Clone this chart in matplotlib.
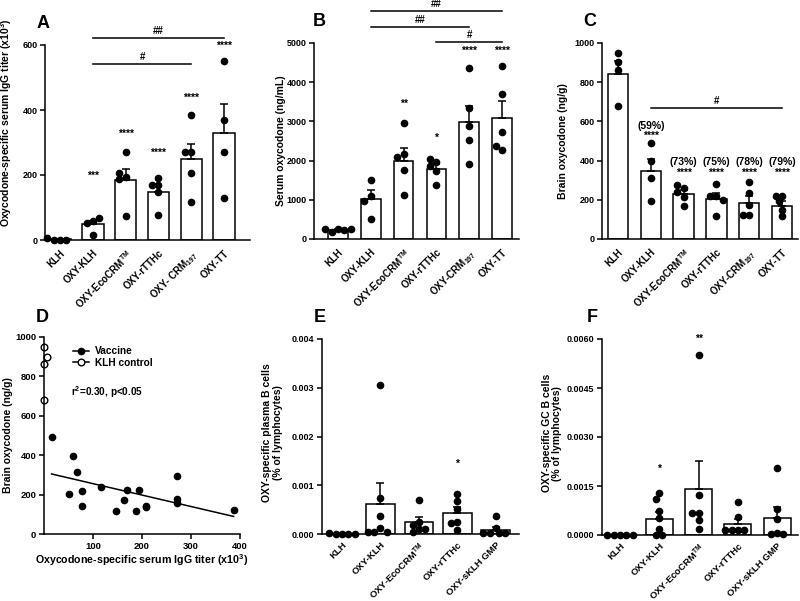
import numpy as np
import matplotlib
matplotlib.use("Agg")
import matplotlib.pyplot as plt
from matplotlib.lines import Line2D

plt.rcParams.update({
    "font.family": ["Liberation Sans", "DejaVu Sans"],
    "font.weight": "bold",
    "font.size": 7,
    "axes.labelweight": "bold",
    "mathtext.fontset": "custom",
    "mathtext.rm": "Liberation Sans:bold",
    "mathtext.it": "Liberation Sans:italic:bold",
    "mathtext.bf": "Liberation Sans:bold",
    "mathtext.default": "rm",
    "axes.linewidth": 1.1,
})

# ---- data ----
top_labels_a = ["KLH", "OXY-KLH", r"OXY-EcoCRM$^{TM}$", "OXY-rTTHc", r"OXY- CRM$_{197}$", "OXY-TT"]
top_labels = ["KLH", "OXY-KLH", r"OXY-EcoCRM$^{TM}$", "OXY-rTTHc", r"OXY-CRM$_{197}$", "OXY-TT"]
bottom_labels = ["KLH", "OXY-KLH", r"OXY-EcoCRM$^{TM}$", "OXY-rTTHc", "OXY-sKLH GMP"]

# A: IgG titer (x10^3)
titer_mean = [2, 48, 184, 148, 249, 329]
titer_sem = [1.5, 12, 34, 21, 45, 90]
titer_pts = [[0, 0, 0, 6], [60, 52, 68, 15], [272, 195, 187, 207, 75],
             [190, 170, 170, 147, 77], [386, 271, 271, 207, 116], [551, 370, 272, 130]]
titer_stars = ["", "***", "****", "****", "****", "****"]
titer_star_y = [0, 198, 326, 268, 437, 598]
titer_brackets = [(1, 5, 621, "##"), (1, 4, 541, "#")]

# B: serum oxycodone (ng/mL)
serum_mean = [230, 1020, 1990, 1786, 2993, 3087]
serum_sem = [15, 221, 323, 119, 408, 425]
serum_pts = [[250, 190, 220, 250, 260], [1505, 1100, 978, 510], [2950, 2177, 2092, 1752, 1114],
             [1973, 2041, 1871, 1743, 1378], [4354, 3342, 2874, 2534, 1922], [4422, 3690, 2721, 2279, 2381]]
serum_stars = ["", "", "**", "*", "****", "****"]
serum_star_y = [0, 0, 3444, 2577, 4804, 4804]
serum_brackets = [(1, 5, 5816, "##"), (1, 4, 5408, "##"), (3, 5, 5025, "#")]

# C: brain oxycodone (ng/g)
brain_mean = [843, 345, 228, 206, 184, 167]
brain_sem = [63, 65, 24, 28, 34, 29]
brain_pts = [[949, 901, 864, 677], [490, 396, 311, 196], [260, 238, 277, 213, 167],
             [282, 221, 218, 200, 119], [289, 235, 175, 124, 124], [218, 221, 192, 150, 116]]
brain_stars = ["", "****", "****", "****", "****", "****"]
brain_pct = ["", "(59%)", "(73%)", "(75%)", "(78%)", "(79%)"]
brain_star_y = [0, 524, 337, 337, 337, 337]
brain_pct_y = [0, 578, 391, 391, 391, 391]
brain_brackets = [(1, 5, 668, "#")]

# D: correlation
klh_titer = [0, 6, 0, 0]
klh_brain = [949, 899, 862, 680]
vac_titer = [15.5, 59, 68, 77, 77, 52, 117, 147, 164, 169, 188, 193, 209, 209, 272, 272, 272, 387]
vac_brain = [491, 398, 317, 219, 143, 202, 241, 115, 174, 221, 115, 221, 143, 135, 292, 179, 157, 123]
fit_slope = -0.5805
fit_intercept = 313.7

# E: plasma B cells
plasma_mean = [0.00001, 0.000622, 0.000246, 0.00043, 0.00009]
plasma_sem = [0.000005, 0.000424, 0.000104, 0.00012, 0.00005]
plasma_pts = [[0, 0, 0, 0.00003, 0.00001],
              [0.00305, 0.00074, 0.00036, 0.00013, 0.00004, 0.00004, 0.00004],
              [0.0007, 0.00025, 0.00018, 0.0001, 0.00005, 0.0001],
              [0.00082, 0.00068, 0.00052, 0.00024, 0.00023, 0.00008],
              [0.00036, 0.00013, 0.00003, 0.00002, 0.00002, 0.00002]]
plasma_stars = ["", "", "", "*", ""]
plasma_star_y = [0, 0, 0, 0.00144, 0]

# F: GC B cells
gc_mean = [0, 0.00049, 0.00142, 0.00033, 0.00051]
gc_sem = [0, 0.00022, 0.00085, 0.00015, 0.00035]
gc_pts = [[0, 0, 0, 0, 0],
          [0.00128, 0.00111, 0.00075, 0.00051, 0.00017, 0, 0],
          [0.00552, 0.00121, 0.00066, 0.00068, 0.00046, 0.00017],
          [0.00101, 0.00054, 0.00016, 0.00016, 0.00016, 0.00016],
          [0.00204, 0.0008, 0.00049, 0.00005, 0.00002, 0.00002]]
gc_stars = ["", "*", "**", "", ""]
gc_star_y = [0, 0.00204, 0.00601, 0, 0]

W, H = 800, 601
fig = plt.figure(figsize=(W / 100, H / 100), dpi=100)


def make_ax(left, right, top, bottom):
    return fig.add_axes([left / W, 1 - bottom / H, (right - left) / W, (bottom - top) / H])


def swarm_offsets(ax, vals, ms_px=6.3):
    # simple deterministic beeswarm so equal values spread sideways
    bb = ax.get_position()
    x0, x1 = ax.get_xlim()
    y0, y1 = ax.get_ylim()
    xpx = bb.width * W / (x1 - x0)
    ypx = bb.height * H / (y1 - y0)
    placed = []
    offs = []
    cands = [0]
    for j in range(1, 12):
        cands += [-j, j]
    for v in vals:
        for c in cands:
            o = c * ms_px * 0.5 / xpx
            ok = True
            for (po, pv) in placed:
                if np.hypot((o - po) * xpx, (v - pv) * ypx) < ms_px * 0.95:
                    ok = False
                    break
            if ok:
                break
        placed.append((o, v))
        offs.append(o)
    return offs


def bar_panel(ax, labels, means, sems, pts, xlim, ylim, yticks, fmt, width, xsize=7, xpad=6):
    x = np.arange(len(labels))
    ax.set_xlim(*xlim)
    ax.set_ylim(*ylim)
    ax.bar(x, means, width=width, color="white", edgecolor="black", linewidth=1.1, zorder=1)
    ax.errorbar(x, means, yerr=[np.zeros(len(sems)), sems], fmt="none", ecolor="black",
                elinewidth=1.1, capsize=3, capthick=1.1, zorder=2)
    for i, vals in enumerate(pts):
        offs = swarm_offsets(ax, vals)
        ax.plot(x[i] + np.array(offs), vals, "o", color="black", ms=4.5, zorder=3, clip_on=False)
    ax.set_xticks(x)
    ax.set_xticklabels(labels, rotation=45, ha="right", rotation_mode="anchor")
    ax.set_yticks(yticks)
    ax.set_yticklabels([fmt % t for t in yticks])
    ax.tick_params(axis="x", length=0, pad=xpad, labelsize=xsize)
    ax.tick_params(axis="y", length=3.5, width=1.1, pad=2, labelsize=6.5)
    ax.spines["top"].set_visible(False)
    ax.spines["right"].set_visible(False)


def stars(ax, marks, ys):
    for i, (m, y) in enumerate(zip(marks, ys)):
        if m:
            ax.text(i, y, m, ha="center", va="center", fontsize=7.5, clip_on=False)


def brackets(ax, items):
    for a, b, y, lab in items:
        ax.plot([a, b], [y, y], color="black", lw=1.1, clip_on=False)
        ax.annotate(lab, xy=((a + b) / 2, y), xytext=(0, 1.5), textcoords="offset points",
                    ha="center", va="bottom", fontsize=7, annotation_clip=False)


# A
axA = make_ax(45, 250, 45, 240)
bar_panel(axA, top_labels_a, titer_mean, titer_sem, titer_pts, (-0.46, 5.79), (0, 600),
          [0, 200, 400, 600], "%d", 0.65)
stars(axA, titer_stars, titer_star_y)
brackets(axA, titer_brackets)
axA.set_ylabel(r"Oxycodone-specific serum IgG titer (x10$^3$)", fontsize=7.5)
axA.yaxis.set_label_coords(-0.15, 0.6)

# B
axB = make_ax(314, 519, 43, 239)
bar_panel(axB, top_labels, serum_mean, serum_sem, serum_pts, (-0.73, 5.52), (0, 5000),
          [0, 1000, 2000, 3000, 4000, 5000], "%d", 0.6)
stars(axB, serum_stars, serum_star_y)
brackets(axB, serum_brackets)
axB.set_ylabel("Serum oxycodone (ng/mL)", fontsize=7.5)
axB.yaxis.set_label_coords(-0.135, 0.5)

# C
axC = make_ax(602, 798, 43, 239)
bar_panel(axC, top_labels, brain_mean, brain_sem, brain_pts, (-0.49, 5.49), (0, 1000),
          [0, 200, 400, 600, 800, 1000], "%d", 0.63)
stars(axC, brain_stars, brain_star_y)
stars(axC, brain_pct, brain_pct_y)
brackets(axC, brain_brackets)
axC.set_ylabel("Brain oxycodone (ng/g)", fontsize=7.5)
axC.yaxis.set_label_coords(-0.173, 0.5)

# D
axD = make_ax(44, 240, 337, 534)
axD.set_xlim(0, 400)
axD.set_ylim(0, 1000)
xl = np.array([min(vac_titer), max(vac_titer)])
axD.plot(xl, fit_slope * xl + fit_intercept, color="black", lw=1.1)
axD.plot(vac_titer, vac_brain, "o", color="black", ms=4.5, clip_on=False)
axD.plot(klh_titer, klh_brain, "o", mfc="white", mec="black", mew=1.0, ms=4.8, clip_on=False)
axD.set_xticks([100, 200, 300, 400])
axD.set_yticks([0, 200, 400, 600, 800, 1000])
axD.tick_params(length=3.5, width=1.1, pad=2, labelsize=6.8)
axD.spines["top"].set_visible(False)
axD.spines["right"].set_visible(False)
axD.set_ylabel("Brain oxycodone (ng/g)", fontsize=7.5)
axD.yaxis.set_label_coords(-0.158, 0.5)
axD.set_xlabel(r"Oxycodone-specific serum IgG titer (x10$^3$)", fontsize=7.7, labelpad=1)
handles = [Line2D([], [], color="black", marker="o", ms=4.5, lw=1.1),
           Line2D([], [], color="black", marker="o", mfc="white", ms=4.8, lw=1.1)]
axD.legend(handles, ["Vaccine", "KLH control"], loc="upper left", bbox_to_anchor=(0.1, 1.0),
           frameon=False, handlelength=1.6, handletextpad=0.6, labelspacing=0.15, fontsize=7.3)
axD.text(0.14, 0.72, r"r$^2$=0.30, p<0.05", transform=axD.transAxes, fontsize=7.2,
         ha="left", va="center")

# E
axE = make_ax(322, 519, 339, 534)
bar_panel(axE, bottom_labels, plasma_mean, plasma_sem, plasma_pts, (-0.52, 4.6), (0, 0.004),
          [0, 0.001, 0.002, 0.003, 0.004], "%.3f", 0.75, xsize=6.8, xpad=4.5)
stars(axE, plasma_stars, plasma_star_y)
axE.set_ylabel("OXY-specific plasma B cells\n(% of lymphocytes)", fontsize=7.5, linespacing=1.05)
axE.yaxis.set_label_coords(-0.2, 0.52)

# F
axF = make_ax(602, 798, 339, 535)
bar_panel(axF, bottom_labels, gc_mean, gc_sem, gc_pts, (-0.46, 4.53), (0, 0.006),
          [0, 0.0015, 0.003, 0.0045, 0.006], "%.4f", 0.69, xsize=6.8, xpad=4.5)
stars(axF, gc_stars, gc_star_y)
axF.set_ylabel("OXY-specific GC B cells\n(% of lymphocytes)", fontsize=7.5, linespacing=1.05)
axF.yaxis.set_label_coords(-0.204, 0.52)

# panel letters
for lab, px, py in [("A", 43, 23), ("B", 319, 21), ("C", 590, 21),
                    ("D", 42, 317), ("E", 320, 317), ("F", 592, 317)]:
    fig.text(px / W, 1 - py / H, lab, fontsize=13, fontweight="bold", ha="center", va="center")

fig.savefig("out.png", dpi=100)
